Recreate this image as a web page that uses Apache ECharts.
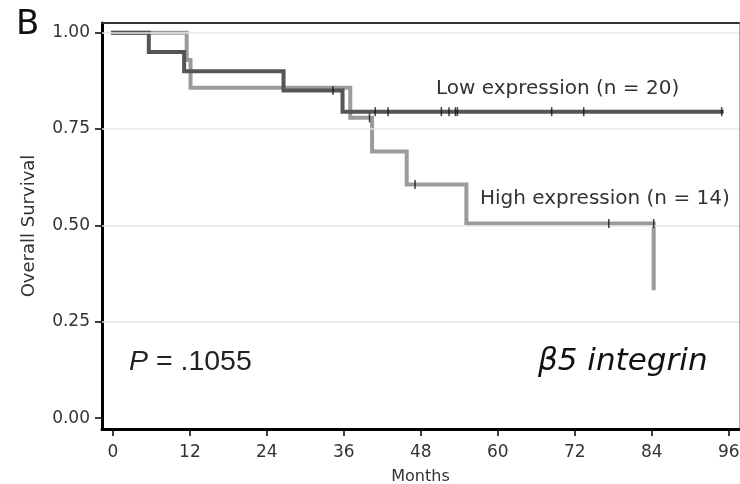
<!DOCTYPE html>
<html>
<head>
<meta charset="utf-8">
<title>Overall Survival by β5 integrin expression</title>
<script src="https://cdn.jsdelivr.net/npm/echarts@6/dist/echarts.min.js"></script>
<style>
  html, body { margin: 0; padding: 0; background: #fff; }
  #chart { width: 740px; height: 484px; }
</style>
</head>
<body>
<div id="chart"></div>
<script>
// Kaplan–Meier step points: [months, survival probability]
const lowSurvival = [[0, 1.0], [5.6, 0.95], [11.1, 0.90], [26.6, 0.85], [35.8, 0.795], [94.9, 0.795]];
const highSurvival = [[0, 1.0], [11.5, 0.929], [12.1, 0.857], [37.0, 0.779], [40.4, 0.692], [45.8, 0.606], [55.1, 0.505], [84.3, 0.337]];

// Censored observations (tick marks on the curves)
const lowCensored = [[34.3, 0.85], [40.9, 0.795], [42.9, 0.795], [51.2, 0.795], [52.4, 0.795], [53.4, 0.795], [53.7, 0.795], [68.4, 0.795], [73.4, 0.795], [94.9, 0.795]];
const highCensored = [[40.0, 0.779], [47.1, 0.606], [77.3, 0.505], [84.3, 0.505]];

const monthTicks = [0, 12, 24, 36, 48, 60, 72, 84, 96];
const survivalTicks = [0, 0.25, 0.5, 0.75, 1.0];
const gridValues = [0.25, 0.5, 0.75, 1.0];

const lowLabel = 'Low expression (n = 20)';
const highLabel = 'High expression (n = 14)';

const chart = echarts.init(document.getElementById('chart'), null, { renderer: 'canvas' });

const font = 'DejaVu Sans';
const xRange = { min: -1.7, max: 97.6 };
const yRange = { min: -0.028, max: 1.025 };

chart.setOption({
  animation: false,
  backgroundColor: '#ffffff',
  grid: { left: 102, right: 1, top: 23, bottom: 55, containLabel: false, outerBoundsMode: 'none' },
  xAxis: [
    {
      type: 'value', min: xRange.min, max: xRange.max,
      name: 'Months', nameLocation: 'middle', nameGap: 40,
      nameTextStyle: { fontFamily: font, fontSize: 16, color: '#333' },
      axisLine: { show: true, onZero: false, lineStyle: { color: '#000', width: 3 } },
      axisTick: { show: true, length: 7, lineStyle: { color: '#000', width: 1.5 }, customValues: monthTicks },
      axisLabel: { fontFamily: font, fontSize: 17, color: '#333', margin: 15, customValues: monthTicks },
      splitLine: { show: false }
    },
    {
      type: 'value', position: 'top', min: xRange.min, max: xRange.max,
      axisLine: { show: true, onZero: false, lineStyle: { color: '#333', width: 2 } },
      axisTick: { show: false }, axisLabel: { show: false }, splitLine: { show: false }
    }
  ],
  yAxis: [
    {
      type: 'value', min: yRange.min, max: yRange.max,
      name: 'Overall Survival', nameLocation: 'middle', nameGap: 64, nameRotate: 90,
      nameTextStyle: { fontFamily: font, fontSize: 18, color: '#333' },
      axisLine: { show: true, onZero: false, lineStyle: { color: '#000', width: 3 } },
      axisTick: { show: true, length: 7, lineStyle: { color: '#000', width: 1.5 }, customValues: survivalTicks },
      axisLabel: {
        fontFamily: font, fontSize: 17, color: '#333', margin: 12, customValues: survivalTicks,
        formatter: v => v.toFixed(2)
      },
      splitLine: { show: false }
    },
    {
      type: 'value', position: 'right', min: yRange.min, max: yRange.max,
      axisLine: { show: true, onZero: false, lineStyle: { color: '#aaa', width: 1 } },
      axisTick: { show: false }, axisLabel: { show: false }, splitLine: { show: false }
    }
  ],
  series: [
    {
      name: 'grid',
      type: 'line', data: [], silent: true,
      markLine: {
        silent: true, symbol: 'none', label: { show: false },
        lineStyle: { color: '#e6e6e6', width: 1.5, type: 'solid' },
        data: gridValues.map(v => ({ yAxis: v }))
      }
    },
    {
      name: highLabel,
      type: 'line', step: 'end', data: highSurvival, showSymbol: false, z: 3,
      lineStyle: { color: '#9b9b9b', width: 4, cap: 'square', join: 'miter' }
    },
    {
      name: lowLabel,
      type: 'line', step: 'end', data: lowSurvival, showSymbol: false, z: 4,
      lineStyle: { color: '#555555', width: 4, cap: 'square', join: 'miter' }
    },
    {
      name: 'censored-high',
      type: 'scatter', data: highCensored, symbol: 'rect', symbolSize: [1.5, 9], z: 5,
      itemStyle: { color: '#111' }
    },
    {
      name: 'censored-low',
      type: 'scatter', data: lowCensored, symbol: 'rect', symbolSize: [1.5, 9], z: 5,
      itemStyle: { color: '#111' }
    }
  ],
  graphic: [
    {
      type: 'text', left: 16, top: 8,
      style: { text: 'B', fontFamily: font, fontSize: 34, fill: '#111' }
    },
    {
      type: 'text', left: 436, top: 79,
      style: { text: lowLabel, fontFamily: font, fontSize: 20, fill: '#333' }
    },
    {
      type: 'text', left: 480, top: 189,
      style: { text: highLabel, fontFamily: font, fontSize: 20, fill: '#333' }
    },
    {
      type: 'text', left: 129, top: 348,
      style: {
        text: '{i|P} = .1055',
        fontFamily: 'Liberation Sans', fontSize: 28.5, fill: '#222',
        rich: { i: { fontStyle: 'italic', fontFamily: 'Liberation Sans', fontSize: 28.5, fill: '#222' } }
      }
    },
    {
      type: 'text', left: 538, top: 346,
      style: { text: 'β5 integrin', fontFamily: font, fontStyle: 'italic', fontSize: 31, fill: '#111' }
    }
  ]
});
</script>
</body>
</html>
